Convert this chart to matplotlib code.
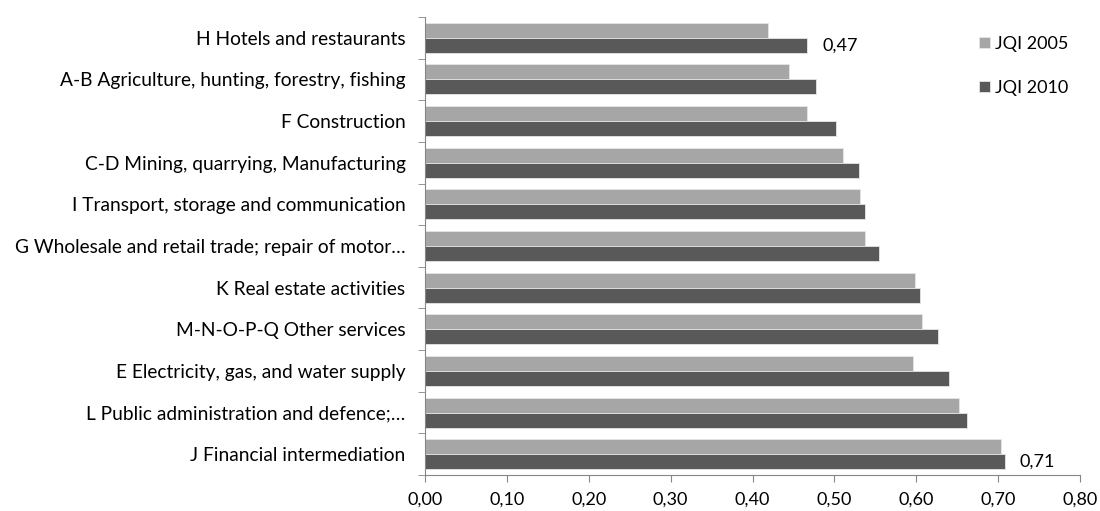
import matplotlib.pyplot as plt
import numpy as np

plt.rcParams['font.family'] = ['Lato', 'DejaVu Sans']

sectors = ['H Hotels and restaurants',
           'A-B Agriculture, hunting, forestry, fishing',
           'F Construction',
           'C-D Mining, quarrying, Manufacturing',
           'I Transport, storage and communication',
           'G Wholesale and retail trade; repair of motor…',
           'K Real estate activities',
           'M-N-O-P-Q Other services',
           'E Electricity, gas, and water supply',
           'L Public administration and defence;…',
           'J Financial intermediation']
jqi_2005 = [0.419, 0.445, 0.467, 0.511, 0.531, 0.537, 0.599, 0.607, 0.596, 0.652, 0.704]
jqi_2010 = [0.467, 0.477, 0.502, 0.530, 0.538, 0.554, 0.605, 0.627, 0.640, 0.662, 0.708]
xticks = np.arange(0, 0.81, 0.1)

fig = plt.figure(figsize=(11, 5.11), dpi=100)
ax = fig.add_axes([0.3864, 0.0705, 0.5954, 0.8962])

y = np.arange(len(sectors))
h = 0.36
ax.barh(y - h/2, jqi_2005, height=h, color='#a6a6a6', edgecolor='#e6e6e6', linewidth=0.6, label='JQI 2005')
ax.barh(y + h/2, jqi_2010, height=h, color='#595959', edgecolor='#e6e6e6', linewidth=0.6, label='JQI 2010')

ax.set_xlim(0, 0.8)
ax.set_ylim(len(sectors) - 0.5, -0.5)
ax.set_xticks(xticks)
ax.set_xticklabels([f'{v:.2f}'.replace('.', ',') for v in xticks], fontsize=13)
ax.set_yticks(y)
ax.set_yticklabels(sectors, fontsize=13.8)
ax.set_yticks(np.arange(-0.5, len(sectors)), minor=True)

for s in ['top', 'right']:
    ax.spines[s].set_visible(False)
for s in ['left', 'bottom']:
    ax.spines[s].set_color('#868686')
ax.tick_params(axis='y', which='major', length=0, pad=14)
ax.tick_params(axis='y', which='minor', length=5, color='#868686')
ax.tick_params(axis='x', length=5, color='#868686', pad=7)

# labels on the first and last 2010 bars
for i in [0, len(sectors) - 1]:
    v = jqi_2010[i]
    ax.annotate(f'{v:.2f}'.replace('.', ','), (v, y[i] + h/2), xytext=(11, 0),
                textcoords='offset points', va='center', ha='left', fontsize=13)

ax.legend(loc='upper left', bbox_to_anchor=(0.835, 0.975), frameon=False, fontsize=13,
          handlelength=0.6, handleheight=0.6, handletextpad=0.3, labelspacing=1.55,
          borderaxespad=0)

plt.savefig('out.png')
